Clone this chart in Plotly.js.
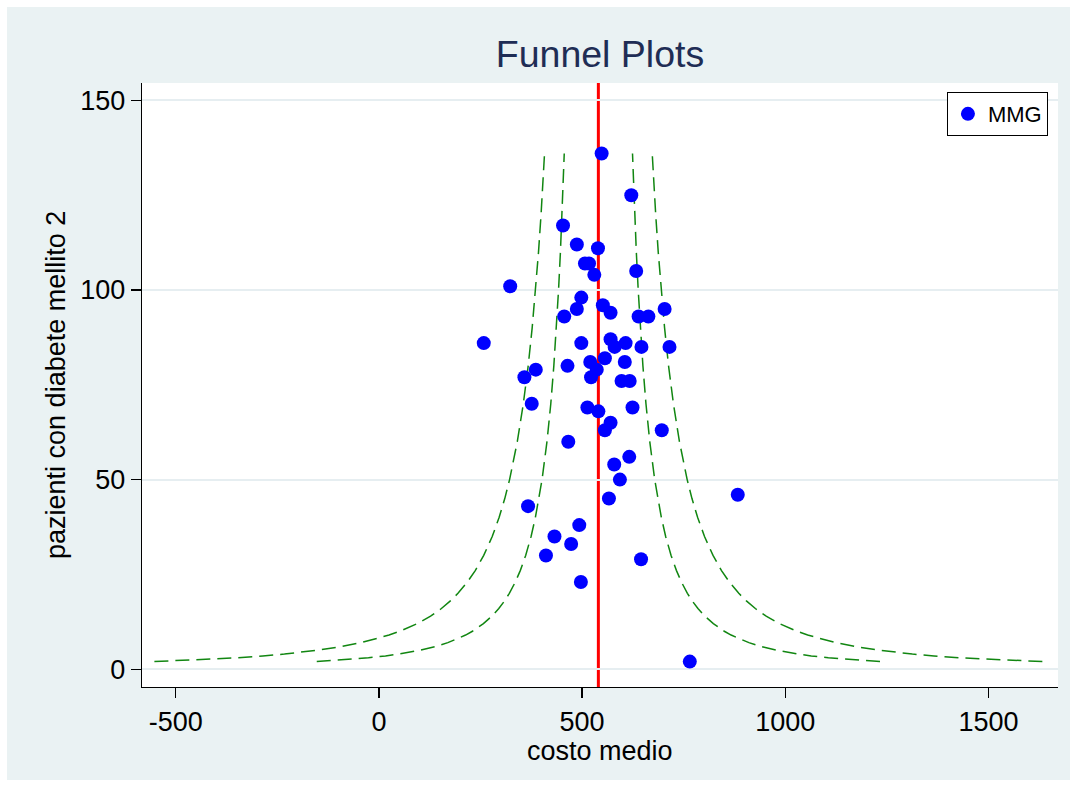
<!DOCTYPE html>
<html>
<head>
<meta charset="utf-8">
<script src="https://cdn.plot.ly/plotly-3.0.1.min.js"></script>
<style>
  html, body { margin: 0; padding: 0; background: #ffffff; }
  #chart { position: absolute; left: 7px; top: 7px; width: 1063px; height: 773px; }
</style>
</head>
<body>
<div id="chart"></div>
<script>
// Average cost per general practitioner (MMG) and number of type 2 diabetes patients
var costoMedio = [548, 621, 453, 487, 539, 507, 517, 633, 530, 323,
                  498, 487, 456, 551, 570, 639, 663, 703, 258, 498,
                  570, 580, 607, 646, 715, 386, 358, 464, 520, 556,
                  536, 522, 605, 597, 617, 376, 513, 540, 624, 570,
                  556, 696, 466, 616, 579, 593, 566, 367, 883, 493,
                  432, 473, 411, 645, 497, 765];
var pazienti   = [136, 125, 117, 112, 111, 107, 107, 105, 104, 101,
                  98, 95, 93, 96, 94, 93, 93, 95, 86, 86,
                  87, 85, 86, 85, 85, 79, 77, 80, 81, 82,
                  79, 77, 81, 76, 76, 70, 69, 68, 69, 65,
                  63, 63, 60, 56, 54, 50, 45, 43, 46, 38,
                  35, 33, 30, 29, 23, 2];

// Overall average cost (reference line)
var mediaCosto = 540;

// Control limits of the funnel at selected patient counts
var nLimiti  = [2, 2.5, 3, 3.5, 4, 5, 6, 7, 8, 9, 10, 12, 14, 16, 18, 20,
                23, 26, 30, 35, 40, 45, 50, 60, 70, 80, 90, 100, 110, 120, 136];
var inf95    = [-153, -79.8, -25.8, 16.2, 50, 101.7, 139.9, 169.6, 193.5, 213.3,
                230.1, 257.1, 278.1, 295, 309, 320.9, 335.7, 347.8, 361.1, 374.4,
                385, 393.9, 401.4, 413.5, 422.9, 430.4, 436.7, 442, 446.6, 450.5, 456];
var sup95    = [1233, 1159.8, 1105.8, 1063.8, 1030, 978.3, 940.1, 910.4, 886.5, 866.7,
                849.9, 822.9, 801.9, 785, 771, 759.1, 744.3, 732.2, 718.9, 705.6,
                695, 686.1, 678.6, 666.5, 657.1, 649.6, 643.3, 638, 633.4, 629.5, 624];
var inf998   = [-552.5, -437.2, -352, -285.8, -232.5, -150.9, -90.7, -43.9, -6.2, 25,
                51.4, 94, 127.1, 153.75, 175.8, 194.5, 217.8, 237, 257.9, 278.8,
                295.7, 309.7, 321.5, 340.5, 355.3, 367.3, 377.1, 385.5, 392.7, 399, 407.5];
var sup998   = [1632.5, 1517.2, 1432, 1365.8, 1312.5, 1230.9, 1170.7, 1123.9, 1086.2, 1055,
                1028.6, 986, 952.9, 926.25, 904.2, 885.5, 862.2, 843, 822.1, 801.2,
                784.3, 770.3, 758.5, 739.5, 724.7, 712.7, 702.9, 694.5, 687.3, 681, 672.5];

// Axis ticks and titles
var xTickVals   = [-500, 0, 500, 1000, 1500];
var xTickLabels = ['-500', '0', '500', '1000', '1500'];
var yTickVals   = [0, 50, 100, 150];
var yTickLabels = ['0', '50', '100', '150'];
var xTitolo = 'costo medio';
var yTitolo = 'pazienti con diabete mellito 2';

var FONT = 'Liberation Sans, Arial, Helvetica, sans-serif';
var GREEN = '#118611';

function limitTrace(xs) {
  return {
    x: xs, y: nLimiti, type: 'scatter', mode: 'lines',
    line: { color: GREEN, width: 1.5, dash: '14px,7px' },
    hoverinfo: 'skip', showlegend: false
  };
}

var traces = [
  limitTrace(inf998),
  limitTrace(inf95),
  limitTrace(sup95),
  limitTrace(sup998),
  {
    x: costoMedio, y: pazienti, type: 'scatter', mode: 'markers',
    name: 'MMG',
    marker: { color: '#0000ff', size: 14, line: { width: 0 } }
  }
];

var layout = {
  width: 1063, height: 773,
  paper_bgcolor: '#eaf2f3',
  plot_bgcolor: '#ffffff',
  margin: { l: 135, r: 12, t: 76, b: 93, pad: 0 },
  font: { family: FONT, color: '#000000', size: 27 },
  title: {
    text: 'Funnel Plots',
    font: { family: FONT, size: 37.5, color: '#1f2d55' },
    x: 0.5, xref: 'paper', xanchor: 'center',
    y: 1 - 47 / 773, yref: 'container', yanchor: 'middle'
  },
  xaxis: {
    range: [-583, 1671],
    tickmode: 'array', tickvals: xTickVals, ticktext: xTickLabels,
    ticks: 'outside', ticklen: 10, tickwidth: 1.3, tickcolor: '#000000',
    tickfont: { family: FONT, size: 27, color: '#000000' },
    showline: true, linecolor: '#000000', linewidth: 1.3,
    showgrid: false, zeroline: false
  },
  yaxis: {
    range: [-4.7, 154.6],
    tickmode: 'array', tickvals: yTickVals, ticktext: yTickLabels,
    ticks: 'outside', ticklen: 10, tickwidth: 1.3, tickcolor: '#000000',
    tickfont: { family: FONT, size: 27, color: '#000000' },
    showline: true, linecolor: '#000000', linewidth: 1.3,
    showgrid: true, gridcolor: '#e6eef1', gridwidth: 2,
    zeroline: false
  },
  // Axis titles placed just outside the plotting area
  annotations: [
    {
      text: xTitolo, xref: 'paper', yref: 'paper', x: 0.5, y: -0.106,
      xanchor: 'center', yanchor: 'middle', showarrow: false, borderpad: 0,
      font: { family: FONT, size: 27, color: '#000000' }
    },
    {
      text: yTitolo, xref: 'paper', yref: 'paper', x: -0.0939, y: 0.5,
      xanchor: 'center', yanchor: 'middle', showarrow: false, textangle: -90,
      font: { family: FONT, size: 27, color: '#000000' }
    }
  ],
  shapes: [{
    type: 'line', xref: 'x', yref: 'paper',
    x0: mediaCosto, x1: mediaCosto, y0: 0, y1: 1,
    line: { color: '#ff0000', width: 3 },
    layer: 'below'
  }],
  legend: {
    x: 0.989, y: 0.985, xanchor: 'right', yanchor: 'top',
    bgcolor: '#ffffff', bordercolor: '#000000', borderwidth: 1,
    font: { family: FONT, size: 22, color: '#000000' }
  },
  showlegend: true
};

Plotly.newPlot('chart', traces, layout, { displayModeBar: false, staticPlot: true });
</script>
</body>
</html>
